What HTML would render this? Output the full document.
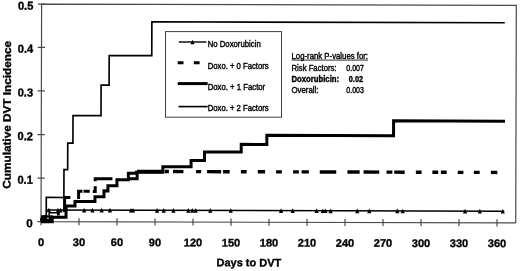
<!DOCTYPE html>
<html><head><meta charset="utf-8">
<style>
html,body{margin:0;padding:0;background:#fff;width:520px;height:271px;overflow:hidden;}
svg{display:block;will-change:transform;}
text{font-family:"Liberation Sans",sans-serif;fill:#000;}
</style></head>
<body>
<svg width="520" height="271" viewBox="0 0 520 271">
<rect x="0" y="0" width="520" height="271" fill="#fff"/>
<g transform="rotate(0.1547 41 120)">
<path d="M41.3,4.1 H516 V221.65 M41.3,4.1 V221.65 H516" fill="none" stroke="#4a4a4a" stroke-width="1.2"/>
<path d="M37.6,4.10 H44.8 M37.6,47.30 H44.8 M37.6,90.90 H44.8 M37.6,134.60 H44.8 M37.6,178.20 H44.8 M37.6,221.70 H44.8" stroke="#4a4a4a" stroke-width="1.2"/>
<path d="M41.30,218.1 V225.2 M79.30,218.1 V225.2 M117.30,218.1 V225.2 M155.30,218.1 V225.2 M193.30,218.1 V225.2 M231.30,218.1 V225.2 M269.30,218.1 V225.2 M307.30,218.1 V225.2 M345.30,218.1 V225.2 M383.30,218.1 V225.2 M421.30,218.1 V225.2 M459.30,218.1 V225.2 M497.30,218.1 V225.2" stroke="#4a4a4a" stroke-width="1.2"/>
<path d="M41.3,221.65 H44 V216 H46.5 V197.4 H64.1 V169.5 H67.8 V143 H73 V115.5 H101 V85 H109 V55.3 H151.6 V21.5 H504.5" fill="none" stroke="#000" stroke-width="1.65"/>
<path d="M46.5,209.95 H504.5" fill="none" stroke="#000" stroke-width="1.4"/>
<path d="M41.3,221.65 H52.5 V217.3 H66.3 V206 H75.2 V201.3 H95.2 V196.5 H104.2 V190.7 H108.1 V185.5 H117.1 V179.5 H128.5 V173 H136.5 V172 H163 V166.3 H191.2 V160.1 H204.6 V151.5 H241.3 V143.8 H266.9 V134.7 H393.6 V119.9 H505" fill="none" stroke="#000" stroke-width="3"/>
<path d="M41.3,221.65 V218.5 H52.5 M49.5,218.5 V212.8 H57.5" fill="none" stroke="#000" stroke-width="1.5"/><rect x="57.2" y="211.3" width="2.8" height="4.2"/>
<rect x="41.3" y="215.3" width="11.5" height="6.4" fill="#000"/><rect x="47.6" y="217.6" width="1.2" height="1.4" fill="#fff"/>
<path d="M64.8,212 V197.4 H70.6 M78.8,198.8 V191.2 H82.7 M83.8,191.2 H90 M93,191.3 H95.4 V186 M95.4,181 V178.6 H112.6 M128,178.6 H137.3 V171.20" fill="none" stroke="#000" stroke-width="3"/>
<g fill="#000"><rect x="137.2" y="169.50" width="25.6" height="3.4"/><rect x="164.8" y="169.50" width="4.2" height="3.4"/><rect x="173.2" y="169.50" width="10.4" height="3.4"/><rect x="196.2" y="169.50" width="5.1" height="3.4"/><rect x="207.2" y="169.50" width="14.1" height="3.4"/><rect x="223.2" y="169.50" width="6.6" height="3.4"/><rect x="241.0" y="169.50" width="5.8" height="3.4"/><rect x="257.9" y="169.50" width="7.3" height="3.4"/><rect x="276.2" y="169.50" width="5.8" height="3.4"/><rect x="293.2" y="169.50" width="5.8" height="3.4"/><rect x="301.7" y="169.50" width="7.3" height="3.4"/><rect x="319.9" y="169.50" width="16.5" height="3.4"/><rect x="347.6" y="169.50" width="12.2" height="3.4"/><rect x="363.7" y="169.50" width="15.7" height="3.4"/><rect x="386.7" y="169.50" width="5.8" height="3.4"/><rect x="394.4" y="169.50" width="10.4" height="3.4"/><rect x="416.0" y="169.50" width="5.7" height="3.4"/><rect x="432.5" y="169.50" width="5.8" height="3.4"/><rect x="441.0" y="169.50" width="5.8" height="3.4"/><rect x="457.9" y="169.50" width="5.7" height="3.4"/><rect x="474.0" y="169.50" width="5.8" height="3.4"/><rect x="491.0" y="169.50" width="6.5" height="3.4"/></g>
<g fill="#000"><path d="M49.2,207.65 L51.3,212.35 L47.1,212.35Z"/><path d="M58.2,207.65 L60.3,212.35 L56.1,212.35Z"/><path d="M60.8,207.65 L62.9,212.35 L58.7,212.35Z"/><path d="M84.4,207.65 L86.5,212.35 L82.3,212.35Z"/><path d="M92.7,207.65 L94.8,212.35 L90.6,212.35Z"/><path d="M101.9,207.65 L104.0,212.35 L99.8,212.35Z"/><path d="M110.2,207.65 L112.3,212.35 L108.1,212.35Z"/><path d="M131.3,207.65 L133.4,212.35 L129.2,212.35Z"/><path d="M133.3,207.65 L135.4,212.35 L131.2,212.35Z"/><path d="M157.3,207.65 L159.4,212.35 L155.2,212.35Z"/><path d="M164.0,207.65 L166.1,212.35 L161.9,212.35Z"/><path d="M173.7,207.65 L175.8,212.35 L171.6,212.35Z"/><path d="M188.5,207.65 L190.6,212.35 L186.4,212.35Z"/><path d="M192.5,207.65 L194.6,212.35 L190.4,212.35Z"/><path d="M196.0,207.65 L198.1,212.35 L193.9,212.35Z"/><path d="M210.5,207.65 L212.6,212.35 L208.4,212.35Z"/><path d="M231.0,207.65 L233.1,212.35 L228.9,212.35Z"/><path d="M281.3,207.65 L283.4,212.35 L279.2,212.35Z"/><path d="M293.0,207.65 L295.1,212.35 L290.9,212.35Z"/><path d="M316.8,207.65 L318.9,212.35 L314.7,212.35Z"/><path d="M323.2,207.65 L325.3,212.35 L321.1,212.35Z"/><path d="M325.7,207.65 L327.8,212.35 L323.6,212.35Z"/><path d="M330.9,207.65 L333.0,212.35 L328.8,212.35Z"/><path d="M357.5,207.65 L359.6,212.35 L355.4,212.35Z"/><path d="M369.5,207.65 L371.6,212.35 L367.4,212.35Z"/><path d="M397.5,207.65 L399.6,212.35 L395.4,212.35Z"/><path d="M403.0,207.65 L405.1,212.35 L400.9,212.35Z"/><path d="M465.3,207.65 L467.4,212.35 L463.2,212.35Z"/><path d="M480.1,207.65 L482.2,212.35 L478.0,212.35Z"/><path d="M503.0,207.65 L505.1,212.35 L500.9,212.35Z"/></g>
<g font-size="11" font-weight="bold" text-anchor="end" stroke="#000" stroke-width="0.35">
<text x="33" y="9.70" font-size="11.6" textLength="15.4" lengthAdjust="spacingAndGlyphs">0.5</text>
<text x="33" y="52.90" font-size="11.6" textLength="15.4" lengthAdjust="spacingAndGlyphs">0.4</text>
<text x="33" y="96.50" font-size="11.6" textLength="15.4" lengthAdjust="spacingAndGlyphs">0.3</text>
<text x="33" y="140.20" font-size="11.6" textLength="15.4" lengthAdjust="spacingAndGlyphs">0.2</text>
<text x="33" y="183.80" font-size="11.6" textLength="15.4" lengthAdjust="spacingAndGlyphs">0.1</text>
<text x="33" y="227.30" font-size="11.6">0</text>
</g>
<g font-size="11" font-weight="bold" text-anchor="middle" stroke="#000" stroke-width="0.35">
<text x="41.30" y="245.9">0</text>
<text x="79.30" y="245.9">30</text>
<text x="117.30" y="245.9">60</text>
<text x="155.30" y="245.9">90</text>
<text x="193.30" y="245.9">120</text>
<text x="231.30" y="245.9">150</text>
<text x="269.30" y="245.9">180</text>
<text x="307.30" y="245.9">210</text>
<text x="345.30" y="245.9">240</text>
<text x="383.30" y="245.9">270</text>
<text x="421.30" y="245.9">300</text>
<text x="459.30" y="245.9">330</text>
<text x="497.30" y="245.9">360</text>
</g>
<text x="249.3" y="265.8" font-size="11" font-weight="bold" text-anchor="middle" stroke="#000" stroke-width="0.35">Days to DVT</text>
<text transform="translate(10.8,114.9) rotate(-90)" font-size="11" font-weight="bold" text-anchor="middle" stroke="#000" stroke-width="0.35" textLength="147.8" lengthAdjust="spacingAndGlyphs">Cumulative DVT Incidence</text>
</g>
<rect x="165.5" y="31.6" width="116" height="85.6" fill="#fff" stroke="#404040" stroke-width="1"/>
<path d="M178.8,42 H206.5" stroke="#000" stroke-width="1.4"/>
<path d="M192.5,39.8 L194.6,44.2 L190.4,44.2 Z" fill="#000"/>
<path d="M177.7,62.8 H183.5 M193.8,62.8 H199.6" stroke="#000" stroke-width="3"/>
<path d="M177.7,83.6 H207.7" stroke="#000" stroke-width="3"/>
<path d="M178.5,106.6 H207.7" stroke="#000" stroke-width="1.65"/>
<g font-size="9.2" stroke="#000" stroke-width="0.42">
<text x="207.7" y="47.3" textLength="53" lengthAdjust="spacingAndGlyphs">No Doxorubicin</text>
<text x="207.7" y="68.5" textLength="61" lengthAdjust="spacingAndGlyphs">Doxo. + 0 Factors</text>
<text x="207.7" y="89.7" textLength="57.5" lengthAdjust="spacingAndGlyphs">Doxo. + 1 Factor</text>
<text x="207.7" y="111.3" textLength="61" lengthAdjust="spacingAndGlyphs">Doxo. + 2 Factors</text>
</g>
<g font-size="8.9" stroke="#000" stroke-width="0.4">
<text x="291.5" y="59.3" textLength="76.5" lengthAdjust="spacingAndGlyphs">Log-rank P-values for:</text>
<text x="291.5" y="71.1" textLength="45" lengthAdjust="spacingAndGlyphs">Risk Factors:</text>
<text x="346.3" y="71.1" textLength="17.5" lengthAdjust="spacingAndGlyphs">0.007</text>
<text x="291.5" y="81.9" font-weight="bold" textLength="47.6" lengthAdjust="spacingAndGlyphs">Doxorubicin:</text>
<text x="348.8" y="81.9" font-weight="bold" textLength="14.2" lengthAdjust="spacingAndGlyphs">0.02</text>
<text x="291.5" y="92.6" textLength="27" lengthAdjust="spacingAndGlyphs">Overall:</text>
<text x="346.3" y="92.6" textLength="17.5" lengthAdjust="spacingAndGlyphs">0.003</text>
</g>
<path d="M291.5,60.1 H368" stroke="#000" stroke-width="0.8"/>
</svg>
</body></html>
